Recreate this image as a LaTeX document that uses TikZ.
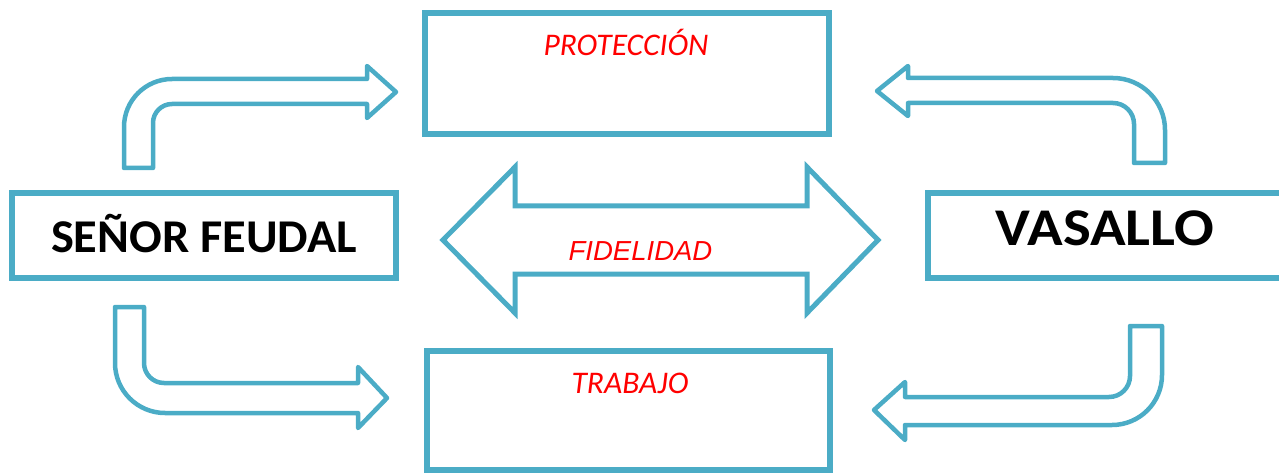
\documentclass[tikz,border=0pt]{standalone}
\usepackage{fontspec}
\setmainfont{Carlito}
\newfontfamily\arialfont{Liberation Sans}
\usepackage{tikz}

\definecolor{feudblue}{HTML}{4BACC6}

\begin{document}
\begin{tikzpicture}[x=1pt,y=-1pt,
  box/.style={draw=feudblue,line width=6pt,inner sep=0pt},
  bigarrow/.style={draw=feudblue,line width=4.5pt,line join=round},
  twoarrow/.style={draw=feudblue,line width=5pt,line join=miter},
  title/.style={font=\bfseries,anchor=base},
  lbl/.style={text=red,font=\itshape,anchor=base}]

\useasboundingbox (0,0) rectangle (1279,473);

% the four boxes
\node[box,minimum width=383.5pt,minimum height=85pt] (senorbox) at (203.75,235.5) {};
\node[box,minimum width=404pt,minimum height=121pt] (protbox) at (626.5,73.5) {};
\node[box,minimum width=403pt,minimum height=119pt] (trabbox) at (628.5,410.5) {};
\node[box,minimum width=420pt,minimum height=85pt] (vasbox) at (1137.5,235.5) {};

% texts
\node[title,font=\fontsize{47}{50}\selectfont\bfseries\addfontfeature{FakeStretch=1.03}] (senor) at (204,252) {SEÑOR FEUDAL};
\node[title,font=\fontsize{53}{58}\selectfont\bfseries\addfontfeature{FakeStretch=1.11}] (vasallo) at (1105,245.5) {VASALLO};
\node[lbl,font=\fontsize{31.5}{34}\selectfont\itshape] (proteccion) at (626,56) {PROTECCIÓN};
\node[lbl,font=\fontsize{31.5}{34}\selectfont\itshape] (trabajo) at (630,393) {TRABAJO};

% double arrow in the middle
\draw[twoarrow] (443,240) -- (515,167) -- (515,206) -- (807,206) -- (807,167)
  -- (878,240) -- (807,313) -- (807,274) -- (515,274) -- (515,313) -- cycle;
\node[lbl,font=\fontsize{27.5}{30}\selectfont\arialfont\itshape] (fidelidad) at (640.5,260) {FIDELIDAD};

% bent arrows
\draw[bigarrow] (124,168) -- (124,127) arc(180:270:48) -- (367,79) -- (367,66)
  -- (396,92) -- (367,118) -- (367,104) -- (172,104) arc(270:180:19) -- (153,168) -- cycle;
\draw[bigarrow] (877,91) -- (908,66) -- (908,78) -- (1113,78) arc(-90:0:52)
  -- (1165,163) -- (1134,163) -- (1134,124) arc(0:-90:21) -- (908,103) -- (908,116) -- cycle;
\draw[bigarrow] (115,307) -- (144,307) -- (144,363) arc(180:90:20) -- (358,383) -- (358,367)
  -- (387,398) -- (358,428) -- (358,413) -- (165,413) arc(90:180:50) -- cycle;
\draw[bigarrow] (874,410) -- (905,382) -- (905,397) -- (1109,397) arc(90:0:21)
  -- (1130,326) -- (1162,326) -- (1162,375) arc(0:90:50) -- (905,425) -- (905,440) -- cycle;

\end{tikzpicture}
\end{document}
